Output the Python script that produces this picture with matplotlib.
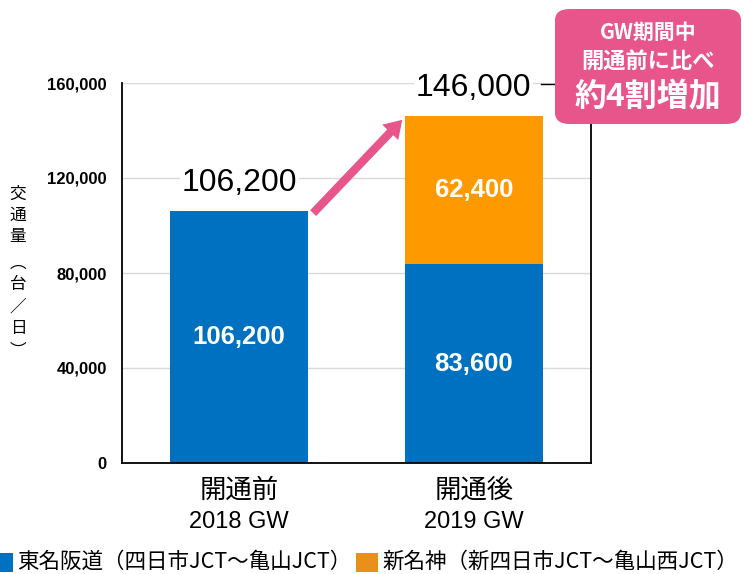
import matplotlib
matplotlib.use("Agg")
import matplotlib.pyplot as plt
from matplotlib.patches import Rectangle, FancyBboxPatch
from matplotlib.lines import Line2D

# ---- data ----
category_names = ["開通前", "開通後"]
category_years = ["2018 GW", "2019 GW"]
tomei = [106200, 83600]          # 東名阪道
shinmeishin = [0, 62400]         # 新名神
totals = [106200, 146000]
yticks = [0, 40000, 80000, 120000, 160000]
legend_labels = ["東名阪道（四日市JCT～亀山JCT）", "新名神（新四日市JCT～亀山西JCT）"]
ylabel_chars = ["交", "通", "量", "︵", "台", "／", "日", "︶"]
callout_lines = ["GW期間中", "開通前に比べ", "約4割増加"]

BLUE = "#0070C0"
ORANGE = "#FF9900"
ORANGE_LEG = "#E8901A"
PINK = "#E8558A"
CJK = ["Noto Sans CJK JP", "DejaVu Sans"]
NUM = ["Liberation Sans", "DejaVu Sans"]

fig = plt.figure(figsize=(7.44, 5.74), dpi=100)
W, H = 744, 574
ax = fig.add_axes([122 / W, 1 - 463 / H, (591 - 122) / W, (463 - 83) / H])

x = list(range(len(category_names)))
bw = 0.59
ax.bar(x, tomei, width=bw, color=BLUE, zorder=2)
ax.bar(x, shinmeishin, width=bw, bottom=tomei, color=ORANGE, zorder=2)

ax.set_xlim(-0.5, 1.5)
ax.set_ylim(0, 160000)
ax.set_yticks(yticks)
ax.set_yticklabels([f"{v:,}" for v in yticks], fontfamily=NUM, fontweight="bold", fontsize=12)
ax.set_xticks(x)
ax.set_xticklabels(category_names, fontfamily=CJK, fontsize=19)
ax.tick_params(axis="both", length=0)
ax.tick_params(axis="y", pad=11)
ax.tick_params(axis="x", pad=10)
for i in x:
    ax.annotate(category_years[i], xy=(i, 0), xycoords=("data", "axes fraction"),
                xytext=(0, -59 * 0.72), textcoords="offset points", ha="center", va="center",
                fontsize=17, fontfamily=NUM, annotation_clip=False)
ax.grid(axis="y", color="#d9d9d9", lw=1, zorder=0)
ax.set_axisbelow(True)
ax.spines["top"].set_visible(False)
for s in ["left", "right", "bottom"]:
    ax.spines[s].set_color("black")
    ax.spines[s].set_linewidth(1.3)

# inner labels
for i in x:
    ax.text(i, tomei[i] / 2, f"{tomei[i]:,}", ha="center", va="center", color="white",
            fontsize=18.5, fontweight="bold", fontfamily=NUM, zorder=3)
    if shinmeishin[i] > 0:
        ax.text(i, tomei[i] + shinmeishin[i] / 2, f"{shinmeishin[i]:,}", ha="center", va="center",
                color="white", fontsize=18.5, fontweight="bold", fontfamily=NUM, zorder=3)

# total labels
for i in x:
    ax.annotate(f"{totals[i]:,}", xy=(i, totals[i]), xytext=(0, 20), textcoords="offset points",
                ha="center", va="center", fontsize=23, fontfamily=NUM, color="black", zorder=4,
                bbox=dict(boxstyle="square,pad=0.05", fc="white", ec="none"),
                annotation_clip=False)

# arrow between bars
ax.annotate("", xy=(x[1] - bw / 2 - 0.01, totals[1] - 1500),
            xytext=(x[0] + bw / 2 + 0.02, totals[0] - 1000),
            arrowprops=dict(arrowstyle="simple,head_length=1.25,head_width=1.6,tail_width=0.6",
                            color=PINK, lw=0, shrinkA=0, shrinkB=0), zorder=4)

# leader line from 146,000 to callout
fig.add_artist(Line2D([541 / W, 556 / W], [1 - 84 / H, 1 - 84 / H], color="black", lw=1, zorder=4))

# callout box
bx0, by0, bx1, by1 = 555, 9, 741, 124
box = FancyBboxPatch((bx0 / W, 1 - by1 / H), (bx1 - bx0) / W, (by1 - by0) / H,
                     boxstyle="round,pad=0,rounding_size=0.02", transform=fig.transFigure,
                     fc=PINK, ec="none", zorder=5)
fig.add_artist(box)
cx = (bx0 + bx1) / 2 / W
fig.text(cx, 1 - 32 / H, callout_lines[0], ha="center", va="center", color="white",
         fontsize=15, fontweight="bold", fontfamily=CJK, zorder=6)
fig.text(cx, 1 - 62 / H, callout_lines[1], ha="center", va="center", color="white",
         fontsize=16, fontweight="bold", fontfamily=CJK, zorder=6)
fig.text(cx, 1 - 97 / H, callout_lines[2], ha="center", va="center", color="white",
         fontsize=23, fontweight="bold", fontfamily=CJK, zorder=6)

# vertical y label
y0 = 194
steps = [0, 21, 21, 27, 22, 22, 22, 22]
yy = y0
for ch, st in zip(ylabel_chars, steps):
    yy += st
    fig.text(18 / W, 1 - yy / H, ch, ha="center", va="center", fontsize=12, fontfamily=CJK)

# legend (manual, measured)
fig.canvas.draw()
renderer = fig.canvas.get_renderer()
ly = 562
sq_w, sq_h = 22, 19
xpos = -9
for lab, col in zip(legend_labels, [BLUE, ORANGE_LEG]):
    fig.add_artist(Rectangle((xpos / W, 1 - (ly + sq_h / 2) / H), sq_w / W, sq_h / H,
                             transform=fig.transFigure, fc=col, ec="none"))
    t = fig.text((xpos + sq_w + 4) / W, 1 - ly / H, lab, ha="left", va="center",
                 fontsize=15.5, fontfamily=CJK)
    bb = t.get_window_extent(renderer)
    xpos = bb.x1 + 5

fig.savefig("out.png", dpi=100)
